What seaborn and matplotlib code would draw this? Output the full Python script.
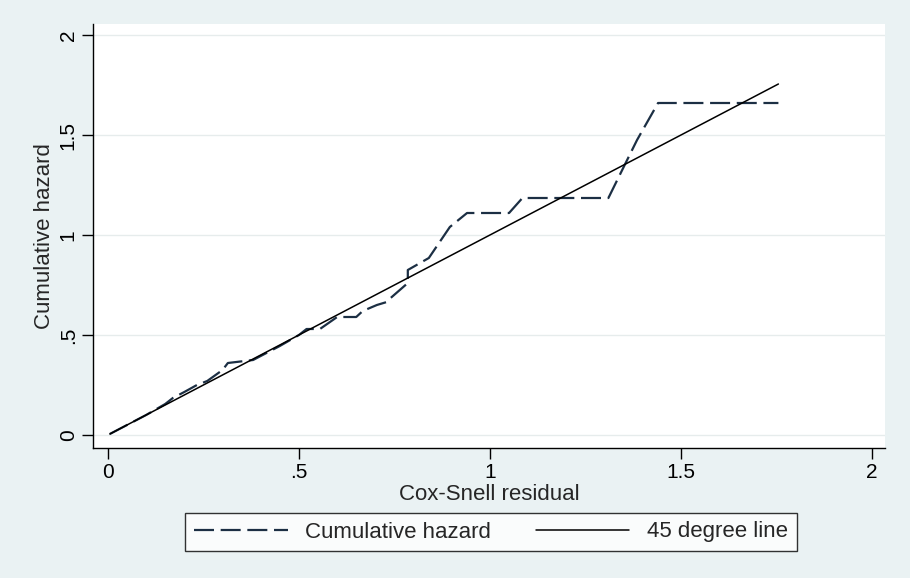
import matplotlib
matplotlib.use("Agg")
import matplotlib.pyplot as plt
import seaborn as sns
import pandas as pd

# Data
resid = [0.005, 0.05, 0.10, 0.15, 0.17, 0.20, 0.233, 0.26, 0.30, 0.314, 0.38, 0.39,
         0.45, 0.50, 0.52, 0.555, 0.60, 0.65, 0.667, 0.704, 0.73, 0.74, 0.785, 0.785,
         0.84, 0.895, 0.94, 1.05, 1.085, 1.31, 1.35, 1.385, 1.44, 1.755]
cumhaz = [0.005, 0.05, 0.10, 0.155, 0.185, 0.215, 0.25, 0.27, 0.325, 0.36, 0.375, 0.385,
          0.445, 0.50, 0.53, 0.53, 0.59, 0.59, 0.62, 0.65, 0.665, 0.685, 0.76, 0.825,
          0.885, 1.04, 1.11, 1.11, 1.185, 1.185, 1.34, 1.475, 1.66, 1.66]
line45_x = [0.005, 1.755]
line45_y = [0.005, 1.755]
ticks = [0, 0.5, 1, 1.5, 2]
tick_labels = ["0", ".5", "1", "1.5", "2"]

sns.set_theme(style="white")
plt.rcParams['font.family'] = ['Liberation Sans', 'DejaVu Sans']

bg = "#eaf2f3"
fig = plt.figure(figsize=(9.1, 5.78), dpi=100, facecolor=bg)
ax = fig.add_axes([93/910, 130/578, 792/910, 424/578])
ax.set_facecolor("white")

df_ch = pd.DataFrame({"x": resid, "y": cumhaz})
df_45 = pd.DataFrame({"x": line45_x, "y": line45_y})

sns.lineplot(data=df_ch, x="x", y="y", ax=ax, estimator=None, sort=False,
             color="#1c2f44", linewidth=1.6, dashes=False, label="Cumulative hazard")
ax.lines[-1].set_dashes([9, 3])
sns.lineplot(data=df_45, x="x", y="y", ax=ax, estimator=None, sort=False,
             color="black", linewidth=1.1, label="45 degree line")

ax.set_xlim(-0.039, 2.034)
ax.set_ylim(-0.065, 2.055)
ax.set_xticks(ticks)
ax.set_xticklabels(tick_labels)
ax.set_yticks(ticks)
ax.set_yticklabels(tick_labels, rotation=90, va="center")
ax.yaxis.grid(True, color="#e6ecec", linewidth=1.0)
ax.xaxis.grid(False)
for s in ["top", "right"]:
    ax.spines[s].set_visible(False)
for s in ["left", "bottom"]:
    ax.spines[s].set_color("black")
    ax.spines[s].set_linewidth(1.0)
ax.tick_params(axis="both", which="major", direction="out", length=8, width=1,
               color="black", labelsize=15, labelcolor="black", pad=3, left=True, bottom=True)
ax.set_xlabel("Cox-Snell residual", fontsize=16, labelpad=1)
ax.set_ylabel("Cumulative hazard", fontsize=16, labelpad=3)

h, l = ax.get_legend_handles_labels()
ax.get_legend().remove()
leg = fig.legend(h, l, loc="center", bbox_to_anchor=(491/910, 1 - 532/578), ncol=2,
                 frameon=True, fancybox=False, edgecolor="black", facecolor="white",
                 fontsize=16, handlelength=4.2, columnspacing=2.0, borderpad=0.4,
                 handletextpad=0.8)
leg.get_frame().set_linewidth(1.0)

fig.savefig("out.png", dpi=100, facecolor=bg)
